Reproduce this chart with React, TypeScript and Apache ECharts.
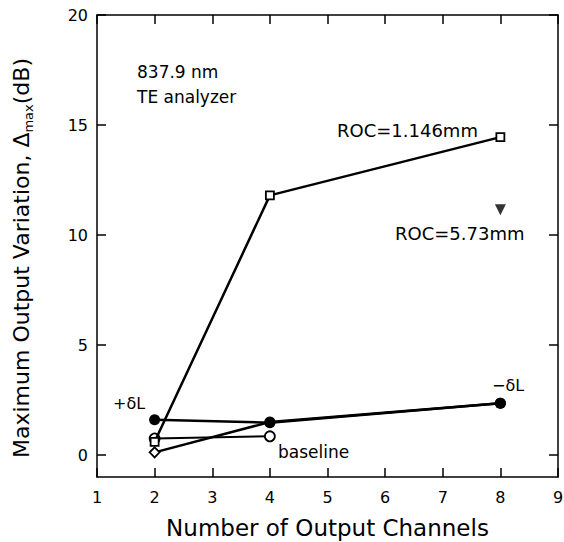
import React, { useEffect, useRef } from "react";
import * as echarts from "echarts";

const channels = [2, 4, 8];
const roc1146 = [0.6, 11.8, 14.45];
const roc573Channels = [8];
const roc573 = [11.15];
const plusDeltaL = [1.6, 1.47, 2.35];
const minusDeltaL = [0.12, 1.5, 2.35];
const baselineChannels = [2, 4];
const baseline = [0.75, 0.85];
const yTickValues = [0, 5, 10, 15, 20];

const FONT = "DejaVu Sans";

const pairs = (xs: number[], ys: number[]) => xs.map((x, i) => [x, ys[i]]);

export default function App() {
  const ref = useRef<HTMLDivElement>(null);
  useEffect(() => {
    if (!ref.current) return;
    const chart = echarts.init(ref.current, null, { renderer: "svg" });
    const openItem = { color: "#fff", borderColor: "#000", borderWidth: 1.8 };
    const lineStyle = { color: "#000", width: 2.5 };
    const axisCommon = {
      axisLine: { show: true, onZero: false, lineStyle: { color: "#000", width: 1.5 } },
      splitLine: { show: false },
    };
    chart.setOption({
      animation: false,
      backgroundColor: "#fff",
      grid: {
        left: 97,
        right: 6,
        top: 15,
        bottom: 65,
        containLabel: false,
        outerBoundsMode: "none",
      },
      xAxis: [
        {
          type: "value",
          min: 1,
          max: 9,
          interval: 1,
          position: "bottom",
          ...axisCommon,
          axisTick: { show: true, inside: true, length: 9, lineStyle: { color: "#000", width: 1.5 } },
          axisLabel: { color: "#000", fontFamily: FONT, fontSize: 16, margin: 12 },
          name: "Number of Output Channels",
          nameLocation: "middle",
          nameGap: 39,
          nameTextStyle: { color: "#000", fontFamily: FONT, fontSize: 23 },
        },
        {
          type: "value",
          min: 1,
          max: 9,
          interval: 1,
          position: "top",
          ...axisCommon,
          axisTick: { show: true, inside: true, length: 9, lineStyle: { color: "#000", width: 1.5 } },
          axisLabel: { show: false },
        },
      ],
      yAxis: [
        {
          type: "value",
          min: -1,
          max: 20,
          position: "left",
          ...axisCommon,
          axisTick: {
            show: true,
            inside: true,
            length: 9,
            customValues: yTickValues,
            lineStyle: { color: "#000", width: 1.5 },
          },
          axisLabel: {
            color: "#000",
            fontFamily: FONT,
            fontSize: 16,
            margin: 9,
            customValues: yTickValues,
          },
          name: "Maximum Output Variation, {d|Δ}{s|max}{n|(dB)}",
          nameLocation: "middle",
          nameGap: 62,
          nameRotate: 90,
          nameTextStyle: {
            color: "#000",
            fontFamily: FONT,
            fontSize: 22,
            padding: [0, 24, 0, 0],
            rich: {
              d: { fontFamily: FONT, fontSize: 22, color: "#000" },
              s: { fontFamily: FONT, fontSize: 13, color: "#000", padding: [14, 0, 0, 0] },
              n: { fontFamily: FONT, fontSize: 22, color: "#000" },
            },
          },
        },
        {
          type: "value",
          min: -1,
          max: 20,
          position: "right",
          ...axisCommon,
          axisTick: {
            show: true,
            inside: true,
            length: 9,
            customValues: yTickValues,
            lineStyle: { color: "#000", width: 1.5 },
          },
          axisLabel: { show: false },
        },
      ],
      series: [
        {
          name: "ROC=1.146mm",
          type: "line",
          data: pairs(channels, roc1146),
          symbol: "rect",
          symbolSize: 8,
          itemStyle: openItem,
          lineStyle,
          z: 3,
        },
        {
          name: "baseline",
          type: "line",
          data: pairs(baselineChannels, baseline),
          symbol: "circle",
          symbolSize: 10,
          itemStyle: openItem,
          lineStyle: { color: "#000", width: 2 },
          z: 2,
        },
        {
          name: "+δL",
          type: "line",
          data: pairs(channels, plusDeltaL),
          symbol: "circle",
          symbolSize: 11,
          itemStyle: { color: "#000" },
          lineStyle,
          z: 4,
        },
        {
          name: "−δL",
          type: "line",
          data: pairs(channels, minusDeltaL).map((p, i) =>
            i === 0
              ? { value: p, symbol: "diamond", symbolSize: 10, itemStyle: openItem }
              : { value: p }
          ),
          symbol: "circle",
          symbolSize: 11,
          itemStyle: { color: "#000" },
          lineStyle,
          z: 4,
        },
        {
          name: "ROC=5.73mm",
          type: "scatter",
          data: pairs(roc573Channels, roc573),
          symbol: "triangle",
          symbolRotate: 180,
          symbolSize: 11,
          itemStyle: { color: "#000" },
          z: 5,
        },
      ],
      graphic: [
        { type: "text", x: 137, y: 72, style: { text: "837.9 nm", fill: "#000", font: `17px ${FONT}`, verticalAlign: "middle" } },
        { type: "text", x: 137, y: 97, style: { text: "TE analyzer", fill: "#000", font: `17px ${FONT}`, verticalAlign: "middle" } },
        { type: "text", x: 337, y: 130, style: { text: "ROC=1.146mm", fill: "#000", font: `18px ${FONT}`, verticalAlign: "middle" } },
        { type: "text", x: 395, y: 233, style: { text: "ROC=5.73mm", fill: "#000", font: `18px ${FONT}`, verticalAlign: "middle" } },
        { type: "text", x: 113, y: 403, style: { text: "+δL", fill: "#000", font: `16px ${FONT}`, verticalAlign: "middle" } },
        { type: "text", x: 492, y: 385, style: { text: "−δL", fill: "#000", font: `16px ${FONT}`, verticalAlign: "middle" } },
        { type: "text", x: 278, y: 452, style: { text: "baseline", fill: "#000", font: `17px ${FONT}`, verticalAlign: "middle" } },
      ],
    });
    return () => chart.dispose();
  }, []);
  return <div ref={ref} style={{ width: 564, height: 542, position: "absolute", left: 0, top: 0 }} />;
}
